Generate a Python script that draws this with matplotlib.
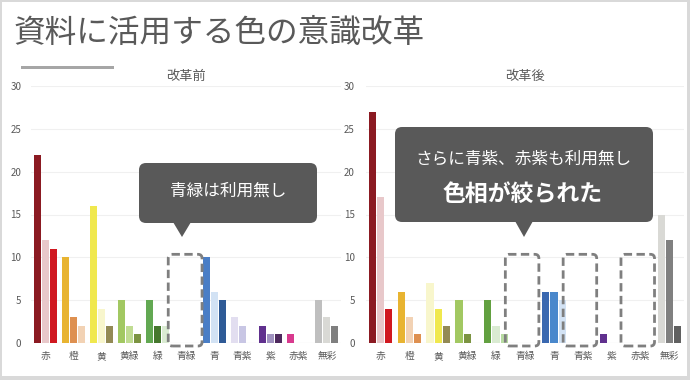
import matplotlib
matplotlib.use("Agg")
import matplotlib.pyplot as plt
import matplotlib.transforms as mtransforms
from matplotlib.patches import FancyBboxPatch, Polygon, Rectangle
import numpy as np

plt.rcParams['font.family'] = ['Noto Sans CJK JP', 'DejaVu Sans']

# ---------------- data ----------------
title = "資料に活用する色の意識改革"
categories = ["赤", "橙", "黄", "黄緑", "緑", "青緑", "青", "青紫", "紫", "赤紫", "無彩"]
yticks = [0, 5, 10, 15, 20, 25, 30]

before_title = "改革前"
before_values = [
    [22, 12, 11], [10, 3, 2], [16, 4, 2], [5, 2, 1], [5, 2, 2], [0, 0, 0],
    [10, 6, 5], [3, 2, 0], [2, 1, 1], [1, 0, 0], [5, 3, 2],
]
before_colors = [
    ["#8B1A22", "#E8C8CA", "#D01820"], ["#E8B431", "#DE9050", "#F2D2B4"],
    ["#F0E84E", "#F8F6CC", "#938A55"], ["#A2C862", "#C0DC92", "#7C9442"],
    ["#62A852", "#46782E", "#DAEBD2"], ["#FFFFFF", "#FFFFFF", "#FFFFFF"],
    ["#4A7EC6", "#D2E2F4", "#2E5A96"], ["#E2DEF0", "#C8C6E4", "#FFFFFF"],
    ["#60308E", "#A092C0", "#4E2A5E"], ["#D83A8E", "#FFFFFF", "#FFFFFF"],
    ["#BFBFBF", "#D9D9D5", "#7F7F7F"],
]

after_title = "改革後"
after_values = [
    [27, 17, 4], [6, 3, 1], [7, 4, 2], [5, 1, 0], [5, 2, 1], [0, 0, 0],
    [6, 6, 5], [0, 0, 0], [1, 0, 0], [0, 0, 0], [15, 12, 2],
]
after_colors = [
    ["#8B1A22", "#E8C8CA", "#D01820"], ["#E8B431", "#F2D2B4", "#DE9050"],
    ["#F8F6CC", "#F0E84E", "#938A55"], ["#A2C862", "#7C9442", "#FFFFFF"],
    ["#62A040", "#DAEBD2", "#B8DCA2"], ["#FFFFFF", "#FFFFFF", "#FFFFFF"],
    ["#3A68B0", "#4A88CC", "#D2E2F4"], ["#FFFFFF", "#FFFFFF", "#FFFFFF"],
    ["#60308E", "#FFFFFF", "#FFFFFF"], ["#FFFFFF", "#FFFFFF", "#FFFFFF"],
    ["#D9D9D5", "#808080", "#606060"],
]

before_unused = ["青緑"]
after_unused = ["青緑", "青紫", "赤紫"]

callout_before = "青緑は利用無し"
callout_after_1 = "さらに青紫、赤紫も利用無し"
callout_after_2 = "色相が絞られた"

# ---------------- figure ----------------
W, H = 690, 380
fig = plt.figure(figsize=(W / 100, H / 100), dpi=100)
fig.patch.set_facecolor("#D9D9D9")
pxT = mtransforms.Affine2D().scale(1 / W, 1 / H) + fig.transFigure


def py(y_top):
    return H - y_top


fig.add_artist(Rectangle((2, 4), 685, 374, transform=pxT, facecolor="white",
                         edgecolor="none", zorder=0))

TXT = "#595959"
fig.text(14 / W, py(33) / H, title, fontsize=22.8, color=TXT, ha="left", va="center")
fig.add_artist(Rectangle((21, py(69)), 93, 3, transform=pxT, facecolor="#A6A6A6",
                         edgecolor="none"))


def make_axes(rect_px, sub_title, values, colors, ypad):
    x0, x1, ytop, ybot = rect_px
    ax = fig.add_axes([x0 / W, py(ybot) / H, (x1 - x0) / W, (ybot - ytop) / H])
    ax.set_xlim(-0.5, len(categories) - 0.5)
    ax.set_ylim(0, 30)
    for s in ax.spines.values():
        s.set_visible(False)
    ax.set_yticks(yticks)
    ax.set_yticklabels([str(v) for v in yticks])
    ax.tick_params(axis="y", length=0, labelsize=7, labelcolor=TXT, pad=ypad)
    ax.set_xticks(np.arange(len(categories)))
    ax.set_xticklabels(categories)
    ax.tick_params(axis="x", length=0, labelsize=7, labelcolor=TXT, pad=6)
    for v in yticks[1:]:
        ax.axhline(v, color="#F0F0F0", lw=0.8, zorder=0)
    ax.axhline(0, color="#D9D9D9", lw=0.8, zorder=1)
    offsets = [-0.285, 0.0, 0.285]
    for i, (vals, cols) in enumerate(zip(values, colors)):
        for j, (v, c) in enumerate(zip(vals, cols)):
            if v > 0:
                ax.bar(i + offsets[j], v, width=0.25, color=c, zorder=2)
    ax.set_title(sub_title, fontsize=9.5, color=TXT, pad=4)
    return ax


axL = make_axes((31, 341, 86, 343), before_title, before_values, before_colors, 7)
axR = make_axes((366, 684, 86, 343), after_title, after_values, after_colors, 8)
fig.canvas.draw()


def dashed_box(ax, cat, shift, half):
    i = categories.index(cat)
    (xa, ya) = ax.transData.transform((i - half + shift, -0.35))
    (xb, yb) = ax.transData.transform((i + half + shift, 10.35))
    p = FancyBboxPatch((xa + 4, ya + 4), (xb - xa) - 8, (yb - ya) - 8,
                       boxstyle="round,pad=4", transform=mtransforms.IdentityTransform(),
                       facecolor="none", edgecolor="#7F7F7F", lw=2,
                       linestyle=(0, (3, 1.6)), zorder=5)
    fig.add_artist(p)


for c in before_unused:
    dashed_box(axL, c, -0.03, 0.6)
for c in after_unused:
    dashed_box(axR, c, -0.1, 0.58)

BOX = "#595959"


def callout(x0, x1, ytop, ybot, tipx, tipy):
    r = 7
    p = FancyBboxPatch((x0 + r, py(ybot) + r), (x1 - x0) - 2 * r, (ybot - ytop) - 2 * r,
                       boxstyle="round,pad=%d" % r, transform=pxT,
                       facecolor=BOX, edgecolor="none", zorder=6)
    fig.add_artist(p)
    tri = Polygon([(tipx - 9, py(ybot) + 1), (tipx + 9, py(ybot) + 1), (tipx, py(tipy))],
                  closed=True, transform=pxT, facecolor=BOX, edgecolor="none", zorder=6)
    fig.add_artist(tri)


callout(139, 317, 163, 223, 182, 237)
fig.text(228 / W, py(191) / H, callout_before, fontsize=12, color="white",
         ha="center", va="center", zorder=7)

callout(395, 653, 127, 222, 524, 237)
fig.text(523 / W, py(159) / H, callout_after_1, fontsize=12, color="white",
         ha="center", va="center", zorder=7)
fig.text(523 / W, py(194) / H, callout_after_2, fontsize=16.5, color="white",
         fontweight="bold", ha="center", va="center", zorder=7)

fig.savefig("out.png", dpi=100, facecolor=fig.get_facecolor())
